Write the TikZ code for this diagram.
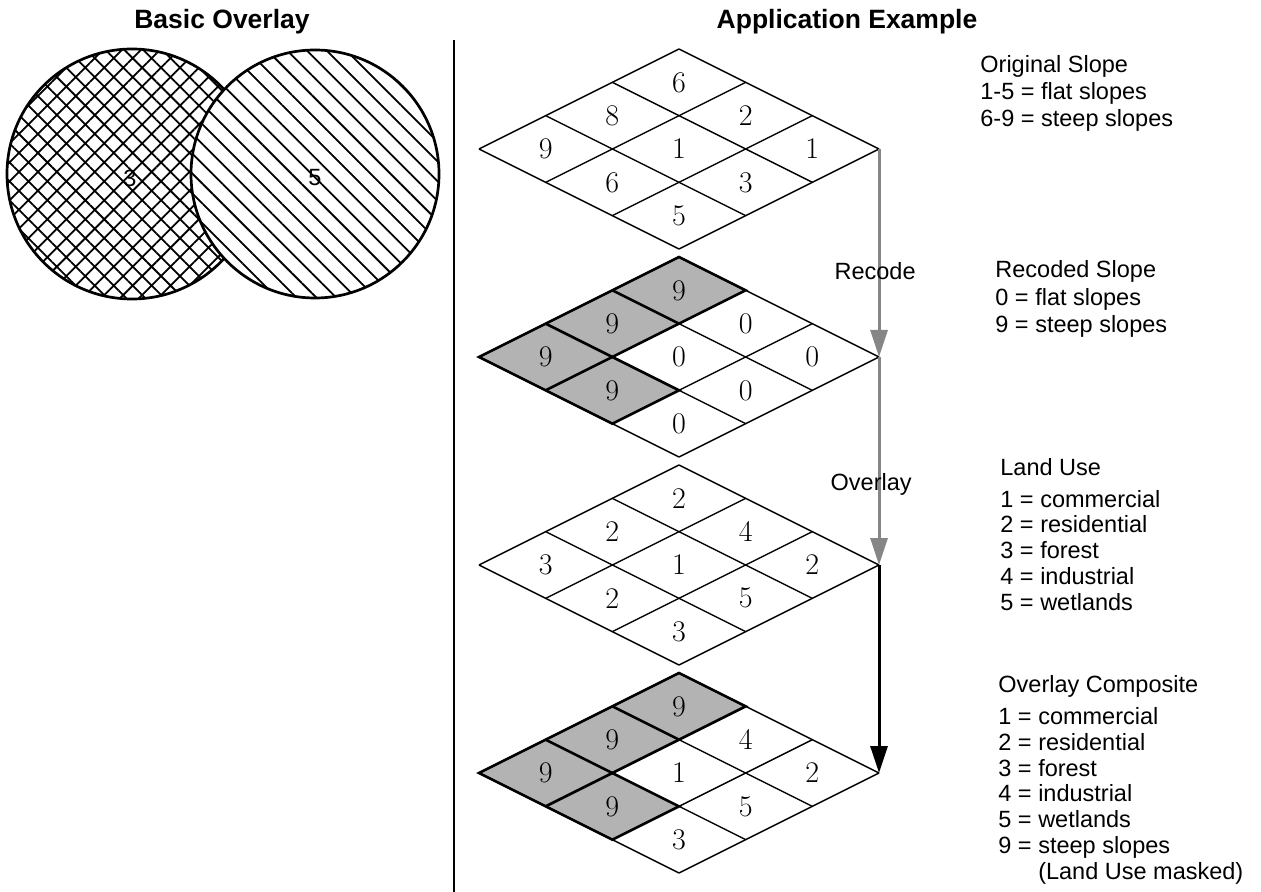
\documentclass[tikz,border=0pt]{standalone}
\usepackage{fontspec}
\setsansfont{Liberation Sans}
\usepackage{tikz}
\usetikzlibrary{arrows.meta,positioning,patterns.meta}
\definecolor{MaskGray}{HTML}{B3B3B3}
\definecolor{FlowGray}{HTML}{868686}
\tikzset{
  gridline/.style={line width=0.7pt,draw=black},
  maskedge/.style={line width=1.3pt,draw=black,line join=miter},
  cellnum/.style={font=\fontsize{15}{17}\selectfont,inner sep=0pt},
  keytext/.style={font=\sffamily\fontsize{11.75}{12.85}\selectfont,align=left,anchor=base west,inner sep=0pt},
  steplabel/.style={font=\sffamily\fontsize{11.75}{14}\selectfont,anchor=base east,inner sep=0pt},
  paneltitle/.style={font=\sffamily\bfseries\fontsize{13.25}{15}\selectfont,anchor=base,inner sep=0pt},
  circlenum/.style={font=\sffamily\fontsize{11.75}{14}\selectfont,inner sep=0pt},
  ringline/.style={line width=1.35pt,draw=black},
  grayarrow/.style={-{Triangle[length=13.5pt,width=8.5pt]},line width=1.5pt,draw=FlowGray},
  blackarrow/.style={-{Triangle[length=13.5pt,width=8.5pt]},line width=1.5pt,draw=black},
  divider/.style={line width=0.7pt,draw=black}
}

\begin{document}
\begin{tikzpicture}[x=0.5pt,y=-0.5pt]
\useasboundingbox (0,0) rectangle (1261,892);

% titles
\node[paneltitle] (basictitle) at (222,29) {Basic Overlay};
\node[paneltitle] (apptitle) at (847,29) {Application Example};
\draw[divider] (454,40) -- (454,892);

% basic overlay circles
\draw[ringline,pattern={Hatch[angle=45,distance=6.7pt,line width=0.9pt]}] (132,174) circle[radius=125];
\draw[ringline,preaction={fill=white},pattern={Lines[angle=-45,distance=7pt,line width=0.9pt]}] (315,174) circle[radius=124];
\node[circlenum] (num3) at (130,178) {3};
\node[circlenum] (num5) at (315,178) {5};

% original slope
\begin{scope}[shift={(479,149)},x={(100pt,50pt)},y={(100pt,-50pt)}]
  \coordinate (slopeL) at (0,0);
  \coordinate (slopeR) at (1,1);
  \foreach \k in {0,1,2,3} {
    \draw[gridline] (\k/3,0) -- (\k/3,1);
    \draw[gridline] (0,\k/3) -- (1,\k/3);
  }
  \foreach \i/\j/\val in {2/0/6,2/1/2,2/2/1,1/0/8,1/1/1,1/2/3,0/0/9,0/1/6,0/2/5}
    \node[cellnum] (slope\i\j) at ({(\i+0.5)/3},{(\j+0.5)/3}) {\val};
\end{scope}

% recoded slope
\begin{scope}[shift={(479,357)},x={(100pt,50pt)},y={(100pt,-50pt)}]
  \coordinate (recodeL) at (0,0);
  \coordinate (recodeR) at (1,1);
  \fill[MaskGray] (0,0) -- (1,0) -- (1,1/3) -- (1/3,1/3) -- (1/3,2/3) -- (0,2/3) -- cycle;
  \foreach \k in {0,1,2,3} {
    \draw[gridline] (\k/3,0) -- (\k/3,1);
    \draw[gridline] (0,\k/3) -- (1,\k/3);
  }
  \draw[maskedge] (0,0) -- (1,0) -- (1,1/3) -- (1/3,1/3) -- (1/3,2/3) -- (0,2/3) -- cycle;
  \draw[maskedge] (1/3,0) -- (1/3,1/3) -- (0,1/3);
  \draw[maskedge] (2/3,0) -- (2/3,1/3);
  \foreach \i/\j/\val in {2/0/9,2/1/0,2/2/0,1/0/9,1/1/0,1/2/0,0/0/9,0/1/9,0/2/0}
    \node[cellnum] (recode\i\j) at ({(\i+0.5)/3},{(\j+0.5)/3}) {\val};
\end{scope}

% land use
\begin{scope}[shift={(479,565)},x={(100pt,50pt)},y={(100pt,-50pt)}]
  \coordinate (landL) at (0,0);
  \coordinate (landR) at (1,1);
  \foreach \k in {0,1,2,3} {
    \draw[gridline] (\k/3,0) -- (\k/3,1);
    \draw[gridline] (0,\k/3) -- (1,\k/3);
  }
  \foreach \i/\j/\val in {2/0/2,2/1/4,2/2/2,1/0/2,1/1/1,1/2/5,0/0/3,0/1/2,0/2/3}
    \node[cellnum] (land\i\j) at ({(\i+0.5)/3},{(\j+0.5)/3}) {\val};
\end{scope}

% overlay composite
\begin{scope}[shift={(479,773)},x={(100pt,50pt)},y={(100pt,-50pt)}]
  \coordinate (compL) at (0,0);
  \coordinate (compR) at (1,1);
  \fill[MaskGray] (0,0) -- (1,0) -- (1,1/3) -- (1/3,1/3) -- (1/3,2/3) -- (0,2/3) -- cycle;
  \foreach \k in {0,1,2,3} {
    \draw[gridline] (\k/3,0) -- (\k/3,1);
    \draw[gridline] (0,\k/3) -- (1,\k/3);
  }
  \draw[maskedge] (0,0) -- (1,0) -- (1,1/3) -- (1/3,1/3) -- (1/3,2/3) -- (0,2/3) -- cycle;
  \draw[maskedge] (1/3,0) -- (1/3,1/3) -- (0,1/3);
  \draw[maskedge] (2/3,0) -- (2/3,1/3);
  \foreach \i/\j/\val in {2/0/9,2/1/4,2/2/2,1/0/9,1/1/1,1/2/5,0/0/9,0/1/9,0/2/3}
    \node[cellnum] (comp\i\j) at ({(\i+0.5)/3},{(\j+0.5)/3}) {\val};
\end{scope}

% flow
\draw[grayarrow] (slopeR) -- (recodeR);
\draw[grayarrow] (recodeR) -- (landR);
\draw[blackarrow] (landR) -- (compR);
\node[steplabel] (recodelbl) at (916,280) {Recode};
\node[steplabel] (overlaylbl) at (912,490) {Overlay};

% keys (anchored at the baseline of the last line)
\node[keytext,font=\sffamily\fontsize{11.75}{13.5}\selectfont] (slopekey) at (980,127) {Original Slope\\1-5 = flat slopes\\6-9 = steep slopes};
\node[keytext,font=\sffamily\fontsize{11.75}{13.75}\selectfont] (recodekey) at (995,333) {Recoded Slope\\0 = flat slopes\\9 = steep slopes};
\node[keytext] (landkey) at (1000,610) {Land Use\\[3.2pt]1 = commercial\\2 = residential\\3 = forest\\4 = industrial\\5 = wetlands};
\node[keytext] (compkey) at (998,879) {Overlay Composite\\[3.3pt]1 = commercial\\2 = residential\\3 = forest\\4 = industrial\\5 = wetlands\\9 = steep slopes\\\phantom{9 = }(Land Use masked)};
\end{tikzpicture}
\end{document}
